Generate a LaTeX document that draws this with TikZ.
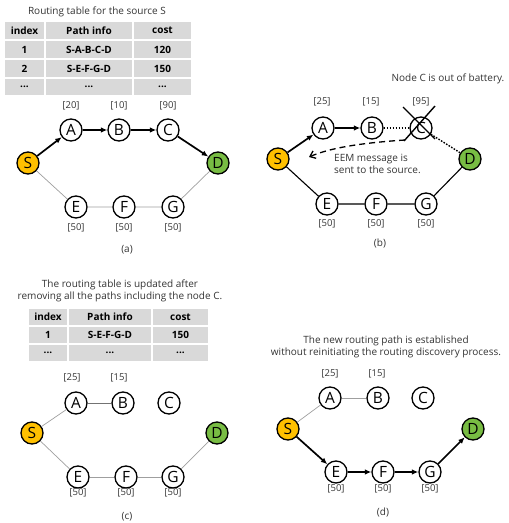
\documentclass[tikz,border=0pt]{standalone}
\usepackage{fontspec}
\setmainfont{Open Sans}
\usetikzlibrary{arrows.meta}
\definecolor{srcfill}{HTML}{FFC000}
\definecolor{dstfill}{HTML}{78BC43}
\definecolor{cellgray}{HTML}{D9D9D9}
\definecolor{txtgray}{HTML}{333333}
\tikzset{
  vtx/.style={circle, draw=black, line width=1.3pt, fill=white, minimum size=22pt, inner sep=0pt, font=\fontsize{15.5}{15.5}\selectfont},
  srcvtx/.style={vtx, fill=srcfill},
  dstvtx/.style={vtx, fill=dstfill},
  costlbl/.style={font=\fontsize{9.5}{10}\selectfont, text=txtgray, inner sep=0pt},
  capt/.style={font=\fontsize{10}{11}\selectfont, text=txtgray, inner sep=0pt},
  note/.style={font=\fontsize{10}{12}\selectfont, text=txtgray, inner sep=0pt, align=center},
  cell/.style={fill=cellgray, inner sep=0pt, font=\fontsize{10}{11}\selectfont\bfseries},
  route/.style={line width=1.7pt, -{Latex[length=6.5pt,width=5.5pt]}},
  weak/.style={draw=gray!75, line width=0.7pt},
  plain/.style={draw=black, line width=1.1pt},
  dead/.style={line width=1.4pt, dash pattern=on 1.6pt off 1.4pt},
  cross/.style={line width=1.4pt},
  eem/.style={line width=1.3pt, dash pattern=on 6pt off 4pt, -{Straight Barb[length=5pt,width=8pt]}}
}
\begin{document}
\begin{tikzpicture}[x=1pt,y=-1pt]
\useasboundingbox (0,0) rectangle (509,523);

% ---------- (a) ----------
\node[note] (a-title) at (97,12) {Routing table for the source S};
% table cells
\node[cell, minimum width=39pt, minimum height=17pt] (a-h1) at (24.5,30.5) {index};
\node[cell, minimum width=86pt, minimum height=17pt] (a-h2) at (89,30.5) {Path info};
\node[cell, minimum width=57pt, minimum height=17pt] (a-h3) at (162.5,30.5) {cost};
\node[cell, minimum width=39pt, minimum height=17pt] (a-r11) at (24.5,49.5) {1};
\node[cell, minimum width=86pt, minimum height=17pt] (a-r12) at (89,49.5) {S-A-B-C-D};
\node[cell, minimum width=57pt, minimum height=17pt] (a-r13) at (162.5,49.5) {120};
\node[cell, minimum width=39pt, minimum height=17pt] (a-r21) at (24.5,68.5) {2};
\node[cell, minimum width=86pt, minimum height=17pt] (a-r22) at (89,68.5) {S-E-F-G-D};
\node[cell, minimum width=57pt, minimum height=17pt] (a-r23) at (162.5,68.5) {150};
\node[cell, minimum width=39pt, minimum height=16pt] (a-r31) at (24.5,87) {...};
\node[cell, minimum width=86pt, minimum height=16pt] (a-r32) at (89,87) {...};
\node[cell, minimum width=57pt, minimum height=16pt] (a-r33) at (162.5,87) {...};
% graph
\node[srcvtx] (a-S) at (28,163) {S};
\node[vtx] (a-A) at (71,130) {A};
\node[vtx] (a-B) at (119,130) {B};
\node[vtx] (a-C) at (168,130) {C};
\node[dstvtx] (a-D) at (218,163) {D};
\node[vtx] (a-E) at (76,207) {E};
\node[vtx] (a-F) at (124,207) {F};
\node[vtx] (a-G) at (173,207) {G};
\node[costlbl] (a-cA) at (71,106) {[20]};
\node[costlbl] (a-cB) at (119,106) {[10]};
\node[costlbl] (a-cC) at (168,106) {[90]};
\node[costlbl] (a-cE) at (76,228) {[50]};
\node[costlbl] (a-cF) at (124,228) {[50]};
\node[costlbl] (a-cG) at (173,228) {[50]};
\draw[route] (a-S) -- (a-A);
\draw[route] (a-A) -- (a-B);
\draw[route] (a-B) -- (a-C);
\draw[route] (a-C) -- (a-D);
\draw[weak] (a-S) -- (a-E) -- (a-F) -- (a-G) -- (a-D);
\node[capt] (a-lbl) at (127,250) {(a)};

% ---------- (b) ----------
\node[note] (b-title) at (448,79) {Node C is out of battery.};
\node[srcvtx] (b-S) at (278,159) {S};
\node[vtx] (b-A) at (323,128) {A};
\node[vtx] (b-B) at (372,128) {B};
\node[vtx] (b-C) at (421,128) {C};
\node[dstvtx] (b-D) at (470,159) {D};
\node[vtx] (b-E) at (327,204) {E};
\node[vtx] (b-F) at (376,204) {F};
\node[vtx] (b-G) at (426,204) {G};
\node[costlbl] (b-cA) at (322,102) {[25]};
\node[costlbl] (b-cB) at (371,102) {[15]};
\node[costlbl] (b-cC) at (421,102) {[95]};
\node[costlbl] (b-cE) at (327,224) {[50]};
\node[costlbl] (b-cF) at (376,224) {[50]};
\node[costlbl] (b-cG) at (426,224) {[50]};
\draw[route] (b-S) -- (b-A);
\draw[route] (b-A) -- (b-B);
\draw[dead] (b-B) -- (b-C);
\draw[dead] (b-C) -- (b-D);
\draw[plain] (b-S) -- (b-E) -- (b-F) -- (b-G) -- (b-D);
% battery-dead mark over C
\coordinate (b-x1) at (403,107);
\coordinate (b-x2) at (435,139);
\coordinate (b-x3) at (435,106);
\coordinate (b-x4) at (404,141);
\draw[cross] (b-x1) -- (b-x2);
\draw[cross] (b-x3) -- (b-x4);
% error message back to the source
\coordinate (b-m0) at (405,140);
\coordinate (b-m1) at (309,157);
\draw[eem] (b-m0) .. controls (360,143) and (330,148) .. (b-m1);
\node[note, align=left, anchor=north west] (b-msg) at (334,154) {EEM message is\\sent to the source.};
\node[capt] (b-lbl) at (380,243) {(b)};

% ---------- (c) ----------
\node[note] (c-title) at (120,291) {The routing table is updated after\\removing all the paths including the node C.};
\node[cell, minimum width=38pt, minimum height=16pt] (c-h1) at (48,317) {index};
\node[cell, minimum width=82pt, minimum height=16pt] (c-h2) at (110,317) {Path info};
\node[cell, minimum width=55pt, minimum height=16pt] (c-h3) at (180.5,317) {cost};
\node[cell, minimum width=38pt, minimum height=16pt] (c-r11) at (48,335) {1};
\node[cell, minimum width=82pt, minimum height=16pt] (c-r12) at (110,335) {S-E-F-G-D};
\node[cell, minimum width=55pt, minimum height=16pt] (c-r13) at (180.5,335) {150};
\node[cell, minimum width=38pt, minimum height=16pt] (c-r21) at (48,353) {...};
\node[cell, minimum width=82pt, minimum height=16pt] (c-r22) at (110,353) {...};
\node[cell, minimum width=55pt, minimum height=16pt] (c-r23) at (180.5,353) {...};
\node[srcvtx] (c-S) at (32,433) {S};
\node[vtx] (c-A) at (76,403) {A};
\node[vtx] (c-B) at (123,403) {B};
\node[vtx] (c-C) at (169,403) {C};
\node[dstvtx] (c-D) at (217,433) {D};
\node[vtx] (c-E) at (78,477) {E};
\node[vtx] (c-F) at (126,477) {F};
\node[vtx] (c-G) at (173,477) {G};
\node[costlbl] (c-cA) at (72,378) {[25]};
\node[costlbl] (c-cB) at (119,378) {[15]};
\node[costlbl] (c-cE) at (78,493) {[50]};
\node[costlbl] (c-cF) at (126,493) {[50]};
\node[costlbl] (c-cG) at (173,493) {[50]};
\draw[weak] (c-S) -- (c-A);
\draw[weak, draw=gray!90!black] (c-A) -- (c-B);
\draw[weak] (c-S) -- (c-E);
\draw[weak, line width=1pt] (c-E) -- (c-F) -- (c-G);
\draw[weak] (c-G) -- (c-D);
\node[capt] (c-lbl) at (127,517) {(c)};

% ---------- (d) ----------
\node[note] (d-title) at (386,347) {The new routing path is established\\without reinitiating the routing discovery process.};
\node[srcvtx] (d-S) at (288,429) {S};
\node[vtx] (d-A) at (330,398) {A};
\node[vtx] (d-B) at (378,398) {B};
\node[vtx] (d-C) at (423,398) {C};
\node[dstvtx] (d-D) at (473,429) {D};
\node[vtx] (d-E) at (336,472) {E};
\node[vtx] (d-F) at (383,472) {F};
\node[vtx] (d-G) at (430,472) {G};
\node[costlbl] (d-cA) at (330,374) {[25]};
\node[costlbl] (d-cB) at (377,374) {[15]};
\node[costlbl] (d-cE) at (336,489) {[50]};
\node[costlbl] (d-cF) at (383,489) {[50]};
\node[costlbl] (d-cG) at (430,489) {[50]};
\draw[weak] (d-S) -- (d-A);
\draw[weak] (d-A) -- (d-B);
\draw[route] (d-S) -- (d-E);
\draw[route] (d-E) -- (d-F);
\draw[route] (d-F) -- (d-G);
\draw[route] (d-G) -- (d-D);
\node[capt] (d-lbl) at (383,512) {(d)};
\end{tikzpicture}
\end{document}
